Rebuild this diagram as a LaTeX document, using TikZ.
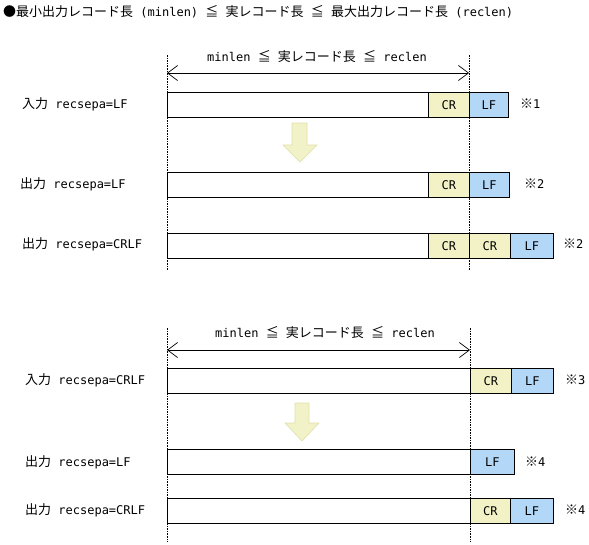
\documentclass[tikz,border=0pt]{standalone}
\usepackage{fontspec}
\setmainfont{Noto Sans CJK JP}
\newfontfamily\lat{DejaVu Sans Mono}
\usetikzlibrary{arrows.meta}
\definecolor{cryel}{HTML}{F2F2C6}
\definecolor{lfblue}{HTML}{B3D7F7}
\definecolor{arrfill}{HTML}{F2F2C8}
\definecolor{arrline}{HTML}{E0E0A8}
\newcommand{\ltx}[1]{{\lat\fontsize{12}{14}\selectfont #1}}
\begin{document}
\begin{tikzpicture}[x=1pt,y=-1pt,font=\fontsize{13}{15}\selectfont,
  recbox/.style={draw=black,line width=0.8pt,inner sep=0pt,minimum height=25pt,anchor=north west,font=\lat\fontsize{12}{14}\selectfont},
  mainbox/.style={recbox,fill=white},
  crbox/.style={recbox,fill=cryel},
  lfbox/.style={recbox,fill=lfblue},
  lbl/.style={anchor=west,inner sep=0pt},
  guide/.style={draw=black,line width=0.6pt,dash pattern=on 1.6pt off 1pt},
  dimline/.style={draw=black,line width=0.7pt,{Straight Barb[length=10pt,width=15pt]}-{Straight Barb[length=10pt,width=15pt]}},
  fatarrow/.style={draw=arrline,fill=arrfill,line width=0.6pt}]
\useasboundingbox (0,0) rectangle (589,544);

\node[lbl] (title) at (3,12) {●最小出力レコード長\ltx{ (minlen) }≦\ltx{ }実レコード長\ltx{ }≦\ltx{ }最大出力レコード長\ltx{ (reclen)}};

% ---------- upper section ----------
\coordinate (gA1) at (167,55);  \coordinate (gA2) at (167,270);
\coordinate (gB1) at (469,55);  \coordinate (gB2) at (469,270);
\draw[guide] (gA1) -- (gA2);
\draw[guide] (gB1) -- (gB2);
\coordinate (dA) at (167,73); \coordinate (dB) at (469,73);
\draw[dimline] (dA) -- (dB);
\node (dimt1) at (317,57) {\ltx{minlen }≦\ltx{ }実レコード長\ltx{ }≦\ltx{ reclen}};

\node[mainbox,minimum width=261pt] (m1) at (167,92) {};
\node[crbox,minimum width=41pt] (c1) at (428,92) {CR};
\node[lfbox,minimum width=39pt] (l1) at (469,92) {LF};
\node[lbl] (t1) at (22,104) {入力\ltx{ recsepa=LF}};
\node[lbl] (n1) at (520,104) {※\ltx{1}};

\path[fatarrow] (292,123) -- (307,123) -- (307,145) -- (317,145) -- (300,162) -- (283,145) -- (292,145) -- cycle;

\node[mainbox,minimum width=261pt] (m2) at (167,172) {};
\node[crbox,minimum width=41pt] (c2) at (428,172) {CR};
\node[lfbox,minimum width=40pt] (l2) at (469,172) {LF};
\node[lbl] (t2) at (20,184) {出力\ltx{ recsepa=LF}};
\node[lbl] (n2) at (524,184) {※\ltx{2}};

\node[mainbox,minimum width=261pt] (m3) at (167,233) {};
\node[crbox,minimum width=41pt] (c3) at (428,233) {CR};
\node[crbox,minimum width=41pt] (c3b) at (469,233) {CR};
\node[lfbox,minimum width=43pt] (l3) at (510,233) {LF};
\node[lbl] (t3) at (22,244) {出力\ltx{ recsepa=CRLF}};
\node[lbl] (n3) at (563,244) {※\ltx{2}};

% ---------- lower section ----------
\coordinate (gC1) at (167,328); \coordinate (gC2) at (167,542);
\coordinate (gD1) at (470,328); \coordinate (gD2) at (470,542);
\draw[guide] (gC1) -- (gC2);
\draw[guide] (gD1) -- (gD2);
\coordinate (dC) at (167,350); \coordinate (dD) at (470,350);
\draw[dimline] (dC) -- (dD);
\node (dimt2) at (325,333) {\ltx{minlen }≦\ltx{ }実レコード長\ltx{ }≦\ltx{ reclen}};

\node[mainbox,minimum width=303pt] (m4) at (167,368) {};
\node[crbox,minimum width=41pt] (c4) at (470,368) {CR};
\node[lfbox,minimum width=42pt] (l4) at (511,368) {LF};
\node[lbl] (t4) at (25,380) {入力\ltx{ recsepa=CRLF}};
\node[lbl] (n4) at (565,380) {※\ltx{3}};

\path[fatarrow] (295,403) -- (309,403) -- (309,423) -- (319,423) -- (302,441) -- (285,423) -- (295,423) -- cycle;

\node[mainbox,minimum width=303pt] (m5) at (167,449) {};
\node[lfbox,minimum width=44pt] (l5) at (470,449) {LF};
\node[lbl] (t5) at (25,462) {出力\ltx{ recsepa=LF}};
\node[lbl] (n5) at (525,462) {※\ltx{4}};

\node[mainbox,minimum width=303pt] (m6) at (167,498) {};
\node[crbox,minimum width=40pt] (c6) at (470,498) {CR};
\node[lfbox,minimum width=43pt] (l6) at (510,498) {LF};
\node[lbl] (t6) at (25,510) {出力\ltx{ recsepa=CRLF}};
\node[lbl] (n6) at (565,510) {※\ltx{4}};
\end{tikzpicture}
\end{document}
